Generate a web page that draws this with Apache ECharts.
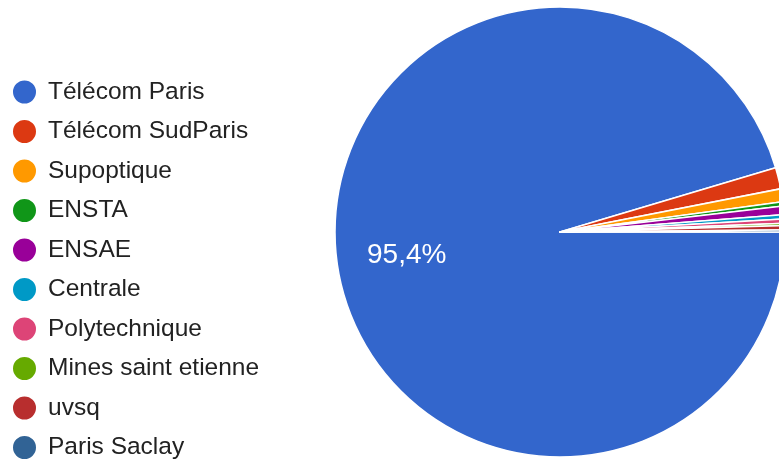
<!DOCTYPE html>
<html>
<head>
<meta charset="utf-8">
<script src="https://cdn.jsdelivr.net/npm/echarts@6/dist/echarts.min.js"></script>
<style>
html,body{margin:0;padding:0;background:#fff;}
#chart{width:779px;height:461px;}
</style>
</head>
<body>
<div id="chart"></div>
<script>
const categories = ["Télécom Paris","Télécom SudParis","Supoptique","ENSTA","ENSAE","Centrale","Polytechnique","Mines saint etienne","uvsq","Paris Saclay"];
const values = [620, 10, 6, 2, 4, 2, 2, 1, 2, 1];
const colors = ["#3366cc","#dc3912","#ff9900","#109618","#990099","#0099c6","#dd4477","#66aa00","#b82e2e","#316395"];

const total = values.reduce((a,b)=>a+b,0);
const data = categories.map((name,i)=>({
  name: name,
  value: values[i],
  label: { show: i === 0 }
}));

const chart = echarts.init(document.getElementById('chart'));
chart.setOption({
  animation: false,
  color: colors,
  legend: {
    orient: 'vertical',
    left: 11,
    top: 78.5,
    height: 395,
    padding: 0,
    icon: 'circle',
    itemWidth: 25,
    itemHeight: 25,
    itemGap: 12.5,
    textStyle: {
      fontFamily: 'Liberation Sans, Arial, sans-serif',
      fontSize: 24.5,
      lineHeight: 25,
      color: '#222222',
      padding: [0,0,0,6]
    },
    data: categories
  },
  series: [{
    type: 'pie',
    center: [560, 232],
    radius: [0, 225],
    startAngle: 0,
    clockwise: true,
    avoidLabelOverlap: false,
    itemStyle: { borderColor: '#ffffff', borderWidth: 1.5 },
    emphasis: { disabled: true },
    labelLine: { show: false },
    label: {
      position: 'inside',
      offset: [-39, 7],
      color: '#ffffff',
      fontFamily: 'Liberation Sans, Arial, sans-serif',
      fontSize: 28,
      formatter: p => (p.value / total * 100).toFixed(1).replace('.', ',') + '%'
    },
    data: data
  }]
});
</script>
</body>
</html>
